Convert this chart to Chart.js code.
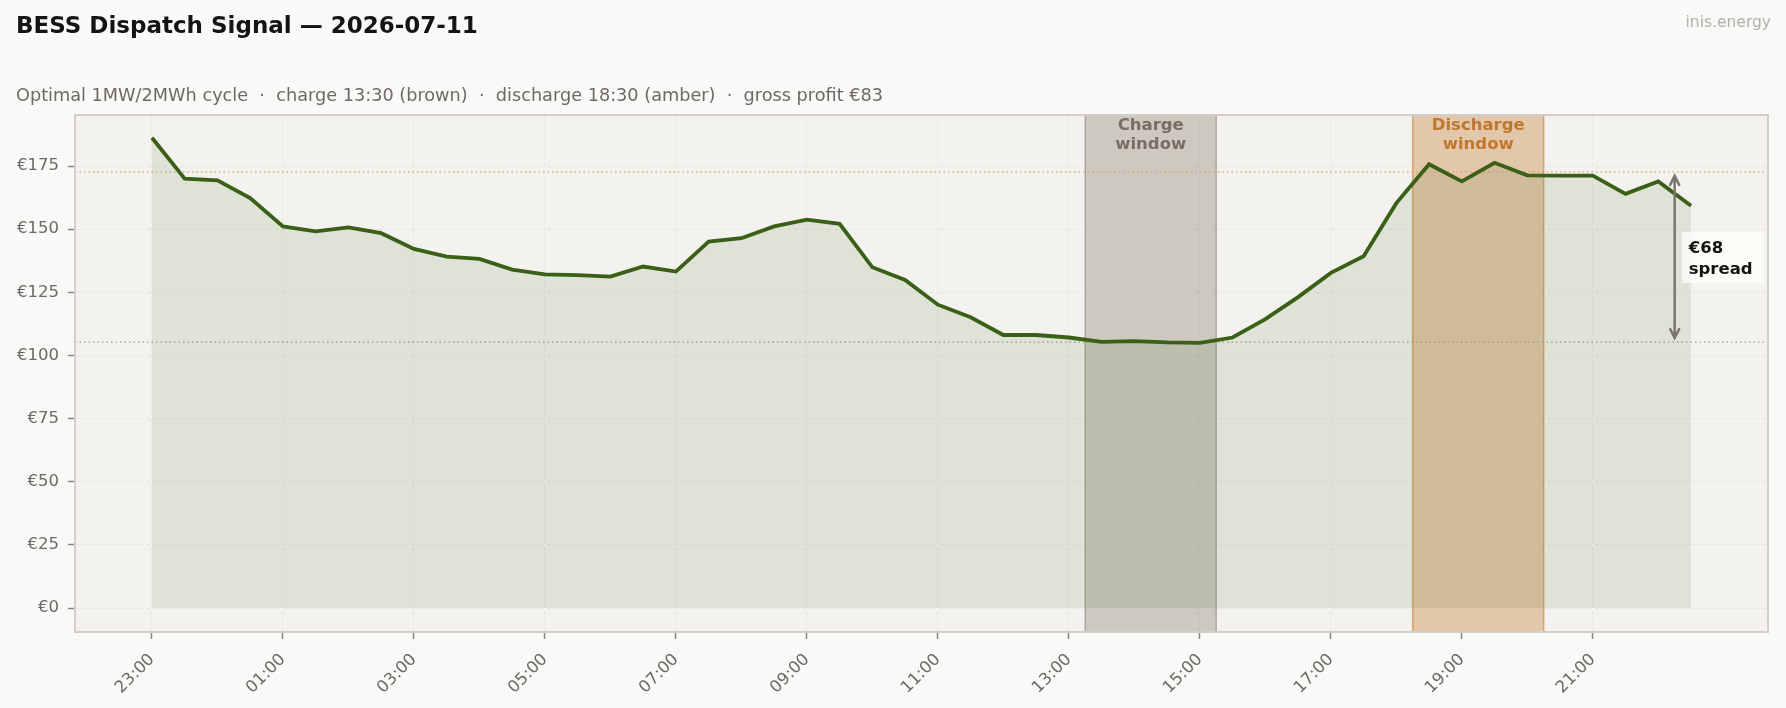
<!DOCTYPE html>
<html>
<head>
<meta charset="utf-8">
<script src="https://cdn.jsdelivr.net/npm/chart.js@4.4.1/dist/chart.umd.min.js"></script>
<style>
  html, body { margin: 0; padding: 0; background: #f9f9f7; }
  #wrap { width: 1786px; height: 708px; }
</style>
</head>
<body>
<div id="wrap"><canvas id="dispatch" width="1786" height="708"></canvas></div>
<script>
// half-hourly slots, 23:00 previous evening through 22:30
const times = [
  '23:00','23:30','00:00','00:30','01:00','01:30','02:00','02:30',
  '03:00','03:30','04:00','04:30','05:00','05:30','06:00','06:30',
  '07:00','07:30','08:00','08:30','09:00','09:30','10:00','10:30',
  '11:00','11:30','12:00','12:30','13:00','13:30','14:00','14:30',
  '15:00','15:30','16:00','16:30','17:00','17:30','18:00','18:30',
  '19:00','19:30','20:00','20:30','21:00','21:30','22:00','22:30'
];
// day-ahead price, €/MWh
const prices = [
  186.2, 170.0, 169.3, 162.3, 151.1, 149.1, 150.7, 148.4,
  142.2, 139.1, 138.2, 134.0, 132.1, 131.8, 131.2, 135.2,
  133.2, 145.1, 146.4, 151.1, 153.8, 152.1, 134.9, 129.9,
  120.1, 115.1, 108.1, 108.1, 107.1, 105.4, 105.7, 105.2,
  105.0, 107.1, 114.4, 123.1, 132.7, 139.3, 160.3, 175.7,
  168.9, 176.3, 171.3, 171.2, 171.2, 164.0, 168.9, 159.3
];
const xTickLabels = ['23:00','01:00','03:00','05:00','07:00','09:00','11:00','13:00','15:00','17:00','19:00','21:00'];
const yTicks = [0, 25, 50, 75, 100, 125, 150, 175];

const chargeWindow = ['13:15', '15:15'];
const dischargeWindow = ['18:15', '20:15'];
const avgDischarge = 172.7;
const avgCharge = 105.3;
const spreadAt = '22:15';
const spreadLabel = ['€68', 'spread'];

const FONT = '"DejaVu Sans", sans-serif';

// hours since 23:00
function toHours(t) {
  const [h, m] = t.split(':').map(Number);
  return ((h - 23 + 24) % 24) + m / 60;
}

const points = times.map((t, i) => ({ x: toHours(t), y: prices[i] }));

const decor = {
  id: 'decor',
  beforeDraw(chart) {
    const { ctx, chartArea: a } = chart;
    ctx.save();
    ctx.fillStyle = '#f9f9f7';
    ctx.fillRect(0, 0, chart.width, chart.height);
    ctx.fillStyle = '#f3f2ee';
    ctx.fillRect(a.left, a.top, a.right - a.left, a.bottom - a.top);

    ctx.fillStyle = '#161412';
    ctx.font = 'bold 23px ' + FONT;
    ctx.textBaseline = 'alphabetic';
    ctx.fillText('BESS Dispatch Signal — 2026-07-11', 16, 33);
    ctx.fillStyle = '#6e6964';
    ctx.font = '17.7px ' + FONT;
    ctx.fillText('Optimal 1MW/2MWh cycle  ·  charge 13:30 (brown)  ·  discharge 18:30 (amber)  ·  gross profit €83', 16, 101);
    ctx.fillStyle = '#b3afaa';
    ctx.font = '15.5px ' + FONT;
    ctx.textAlign = 'right';
    ctx.fillText('inis.energy', 1771, 27);
    ctx.restore();
  },
  beforeDatasetsDraw(chart) {
    const { ctx, chartArea: a, scales: { x, y } } = chart;
    ctx.save();
    const bands = [
      [chargeWindow, 'rgba(120,105,90,0.30)', 'rgba(120,105,90,0.45)'],
      [dischargeWindow, 'rgba(195,120,45,0.35)', 'rgba(195,120,45,0.55)']
    ];
    bands.forEach(([w, fill, edge]) => {
      const x0 = x.getPixelForValue(toHours(w[0]));
      const x1 = x.getPixelForValue(toHours(w[1]));
      ctx.fillStyle = fill;
      ctx.fillRect(x0, a.top, x1 - x0, a.bottom - a.top);
      ctx.strokeStyle = edge;
      ctx.lineWidth = 1.5;
      ctx.beginPath();
      ctx.moveTo(x0, a.top); ctx.lineTo(x0, a.bottom);
      ctx.moveTo(x1, a.top); ctx.lineTo(x1, a.bottom);
      ctx.stroke();
    });
    ctx.setLineDash([1.5, 3]);
    ctx.lineWidth = 1.2;
    [[avgDischarge, '#d9a06c'], [avgCharge, '#a39d97']].forEach(([v, c]) => {
      const py = y.getPixelForValue(v);
      ctx.strokeStyle = c;
      ctx.beginPath();
      ctx.moveTo(a.left, py); ctx.lineTo(a.right, py);
      ctx.stroke();
    });
    ctx.restore();
  },
  afterDatasetsDraw(chart) {
    const { ctx, chartArea: a, scales: { x, y } } = chart;
    ctx.save();
    ctx.font = 'bold 16.5px ' + FONT;
    ctx.textAlign = 'center';
    ctx.textBaseline = 'middle';
    const cx = (x.getPixelForValue(toHours(chargeWindow[0])) + x.getPixelForValue(toHours(chargeWindow[1]))) / 2;
    const dx = (x.getPixelForValue(toHours(dischargeWindow[0])) + x.getPixelForValue(toHours(dischargeWindow[1]))) / 2;
    ctx.fillStyle = '#7a6d62';
    ctx.fillText('Charge', cx, a.top + 11);
    ctx.fillText('window', cx, a.top + 30);
    ctx.fillStyle = '#c0772d';
    ctx.fillText('Discharge', dx, a.top + 11);
    ctx.fillText('window', dx, a.top + 30);

    // spread arrow
    const ax = x.getPixelForValue(toHours(spreadAt));
    const yTop = y.getPixelForValue(avgDischarge) + 4;
    const yBot = y.getPixelForValue(avgCharge) - 4;
    ctx.strokeStyle = '#7d7570';
    ctx.lineWidth = 2.5;
    ctx.lineCap = 'round';
    ctx.beginPath();
    ctx.moveTo(ax, yTop); ctx.lineTo(ax, yBot);
    ctx.moveTo(ax - 4.5, yTop + 9); ctx.lineTo(ax, yTop); ctx.lineTo(ax + 4.5, yTop + 9);
    ctx.moveTo(ax - 4.5, yBot - 9); ctx.lineTo(ax, yBot); ctx.lineTo(ax + 4.5, yBot - 9);
    ctx.stroke();

    ctx.fillStyle = 'rgba(252,252,250,0.8)';
    ctx.fillRect(ax + 7, 232, 82, 51);
    ctx.fillStyle = '#161412';
    ctx.textAlign = 'left';
    ctx.textBaseline = 'alphabetic';
    ctx.fillText(spreadLabel[0], ax + 14, 253);
    ctx.fillText(spreadLabel[1], ax + 14, 274);
    ctx.restore();
  },
  afterDraw(chart) {
    const { ctx, chartArea: a } = chart;
    ctx.save();
    ctx.strokeStyle = '#d3cfc8';
    ctx.lineWidth = 2;
    ctx.strokeRect(a.left, a.top, a.right - a.left, a.bottom - a.top);
    ctx.restore();
  }
};

new Chart(document.getElementById('dispatch'), {
  type: 'line',
  data: {
    datasets: [{
      data: points,
      borderColor: '#3a5f17',
      borderWidth: 3.8,
      backgroundColor: 'rgba(60,100,30,0.11)',
      fill: 'origin',
      pointRadius: 0,
      tension: 0
    }]
  },
  options: {
    responsive: false,
    animation: false,
    layout: { padding: { top: 115, right: 18, bottom: 0, left: 16 } },
    plugins: { legend: { display: false }, tooltip: { enabled: false } },
    scales: {
      x: {
        type: 'linear',
        min: -1.175,
        max: 24.675,
        afterBuildTicks: s => { s.ticks = xTickLabels.map(t => ({ value: toHours(t) })); },
        afterFit: s => { s.height = 76; },
        ticks: {
          autoSkip: false,
          minRotation: 45,
          maxRotation: 45,
          padding: 11,
          color: '#6e6964',
          font: { family: FONT, size: 16.5 },
          callback: (v, i) => xTickLabels[i]
        },
        grid: { color: '#e6e4df', lineWidth: 1, tickColor: '#8a847e', tickLength: 7, tickWidth: 1.5 },
        border: { display: false, dash: [4, 4] }
      },
      y: {
        min: -9.5,
        max: 195.2,
        afterBuildTicks: s => { s.ticks = yTicks.map(v => ({ value: v })); },
        afterFit: s => { s.width = 59; },
        ticks: {
          padding: 9,
          color: '#6e6964',
          font: { family: FONT, size: 16.5 },
          callback: v => '€' + v
        },
        grid: { color: '#e6e4df', lineWidth: 1, tickColor: '#8a847e', tickLength: 7, tickWidth: 1.5 },
        border: { display: false, dash: [4, 4] }
      }
    }
  },
  plugins: [decor]
});
</script>
</body>
</html>
